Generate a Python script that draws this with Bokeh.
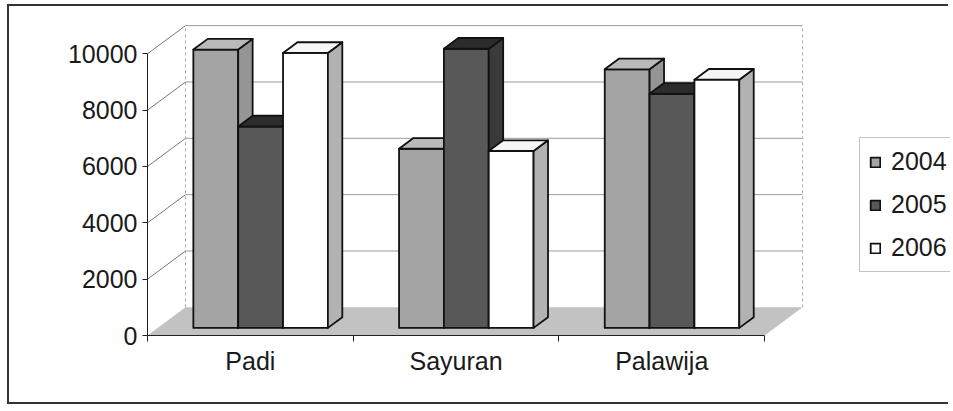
import numpy as np
from bokeh.plotting import figure
from bokeh.models import FixedTicker, Legend, LegendItem, ColumnDataSource
from bokeh.embed import file_html
from bokeh.resources import INLINE

# ---- data ----
categories = ["Padi", "Sayuran", "Palawija"]
years = ["2004", "2005", "2006"]
v2004 = [9880, 6360, 9180]
v2005 = [7150, 9910, 8310]
v2006 = [9760, 6280, 8810]
y_ticks = [0, 2000, 4000, 6000, 8000, 10000]
series = [v2004, v2005, v2006]

# ---- 3D style parameters ----
PX_X = 205.7      # px per category
PX_Y = 0.02817    # px per value unit
DX = 38 / PX_X    # depth offset in x (category units)
DY = 1000         # depth offset in y (value units)
F = 0.27          # depth fraction of bar fronts
BD = 0.38         # bar depth fraction
BW = 0.218        # bar width (category units)
NC = len(categories)

front_colors = ["#a4a4a4", "#585858", "#ffffff"]
side_colors = ["#959595", "#3a3a3a", "#b2b2b2"]
top_colors = ["#bababa", "#2c2c2c", "#f6f6f6"]

W, H = 941, 400
LEFT, BOTTOM, TOP = 138, 71, 5
y_end = (H - BOTTOM - TOP) / PX_Y
x_end = (W - LEFT) / PX_X

p = figure(width=W, height=H, output_backend="svg", toolbar_location=None,
           x_range=(0, x_end), y_range=(0, y_end),
           min_border_left=LEFT, min_border_bottom=BOTTOM, min_border_top=TOP,
           min_border_right=0)
p.outline_line_color = None
p.xgrid.visible = False
p.ygrid.visible = False
p.styles = {"margin-left": "7px", "margin-top": "4px",
            "border-top": "2px solid #333", "border-left": "2px solid #333",
            "border-bottom": "2px solid #333"}

# floor
p.patch([0, NC, NC + DX, DX], [0, 0, DY, DY], fill_color="#c2c2c2", line_color=None)

# back wall gridlines and side wall diagonals
gx0, gy0, gx1, gy1 = [], [], [], []
for v in y_ticks[1:]:
    gx0.append(DX); gy0.append(v + DY); gx1.append(NC + DX); gy1.append(v + DY)
p.segment(gx0, gy0, gx1, gy1, line_color="#9a9a9a", line_width=1)
dx0, dy0, dx1, dy1 = [], [], [], []
for v in y_ticks[1:]:
    dx0.append(0); dy0.append(v); dx1.append(DX); dy1.append(v + DY)
p.segment(dx0, dy0, dx1, dy1, line_color="#777777", line_width=1)
p.segment([DX, NC + DX], [DY, DY], [DX, NC + DX], [y_ticks[-1] + DY] * 2,
          line_color="#aaaaaa", line_width=1, line_dash="3 3")

# bars as faces
xs, ys, fills = [], [], []
legend_index = {}
for i in range(NC):
    for j, vals in enumerate(series):
        v = vals[i]
        x0 = i + 0.5 - 1.5 * BW + j * BW + F * DX
        x1 = x0 + BW
        yb = F * DY
        yt = v + F * DY
        ox, oy = BD * DX, BD * DY
        if i == 0:
            legend_index[j] = len(xs)
        # front
        xs.append([x0, x1, x1, x0]); ys.append([yb, yb, yt, yt]); fills.append(front_colors[j])
        # side
        xs.append([x1, x1 + ox, x1 + ox, x1]); ys.append([yb, yb + oy, yt + oy, yt]); fills.append(side_colors[j])
        # top
        xs.append([x0, x1, x1 + ox, x0 + ox]); ys.append([yt, yt, yt + oy, yt + oy]); fills.append(top_colors[j])

src = ColumnDataSource(dict(xs=xs, ys=ys, fill=fills))
bars = p.patches("xs", "ys", source=src, fill_color="fill", line_color="#111111",
                 line_width=1.8, line_join="round")

# axes
FONT = "Liberation Sans"
FS = "25px"
ya = p.yaxis[0]
ya.ticker = FixedTicker(ticks=y_ticks, minor_ticks=[])
ya.bounds = (0, y_ticks[-1])
ya.major_tick_out = 5
ya.major_tick_in = 0
ya.major_label_standoff = 5
ya.major_label_text_font = FONT
ya.major_label_text_font_size = FS
ya.major_label_text_color = "#1a1a1a"
ya.axis_line_color = "#222222"
ya.major_tick_line_color = "#222222"

xa = p.xaxis[0]
xa.ticker = FixedTicker(ticks=[i + 0.5 for i in range(NC)], minor_ticks=list(range(NC + 1)))
xa.major_label_overrides = {i + 0.5: c for i, c in enumerate(categories)}
xa.bounds = (0, NC)
xa.major_tick_line_color = None
xa.major_tick_out = 0
xa.major_tick_in = 0
xa.minor_tick_out = 6
xa.minor_tick_in = 0
xa.minor_tick_line_color = "#222222"
xa.major_label_standoff = 5
xa.major_label_text_font = FONT
xa.major_label_text_font_size = FS
xa.major_label_text_color = "#1a1a1a"
xa.axis_line_color = "#222222"

legend = Legend(items=[LegendItem(label=years[j], renderers=[bars], index=legend_index[j])
                       for j in range(len(years))],
                location=(712, 63))
legend.label_text_font = FONT
legend.label_text_font_size = FS
legend.label_text_color = "#1a1a1a"
legend.glyph_width = 12
legend.glyph_height = 12
legend.label_height = 28
legend.spacing = 14
legend.padding = 9
legend.margin = 0
legend.label_standoff = 10
legend.border_line_color = "#888888"
legend.background_fill_color = "white"
legend.background_fill_alpha = 1
p.add_layout(legend)

open("out.html", "w").write(file_html(p, INLINE))
